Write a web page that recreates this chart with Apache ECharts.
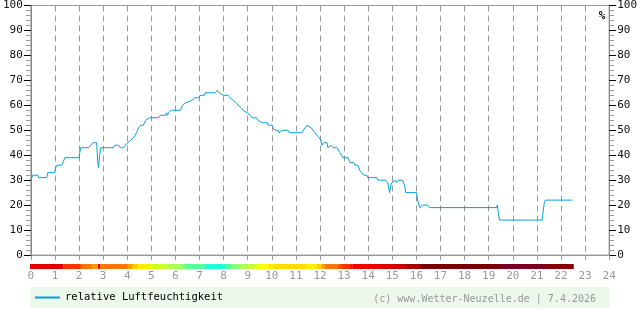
<!DOCTYPE html>
<html>
<head>
<meta charset="utf-8">
<script src="https://cdn.jsdelivr.net/npm/echarts@6/dist/echarts.min.js"></script>
<style>html,body{margin:0;padding:0;background:#fff}#c{width:640px;height:315px}</style>
</head>
<body>
<div id="c"></div>
<script>
// Time of day (hours) and relative humidity (%)
var hours = [0.00,0.04,0.08,0.29,0.33,0.66,0.70,0.99,1.03,1.08,1.28,1.37,1.41,2.00,2.03,2.07,2.40,2.48,2.57,2.73,2.77,2.81,2.85,2.90,3.43,3.47,3.64,3.72,3.85,3.93,4.01,4.14,4.26,4.39,4.47,4.55,4.67,4.76,4.84,4.92,5.30,5.38,5.59,5.63,5.67,5.71,5.83,6.21,6.29,6.41,6.70,6.79,6.95,7.03,7.20,7.24,7.65,7.74,7.82,7.90,7.99,8.19,8.27,8.40,8.52,8.61,8.73,8.81,8.98,9.10,9.18,9.35,9.43,9.60,9.81,9.85,10.01,10.05,10.14,10.26,10.30,10.43,10.67,10.72,11.25,11.38,11.46,11.54,11.63,11.71,11.79,11.87,11.96,12.04,12.08,12.16,12.29,12.33,12.45,12.54,12.70,12.83,12.95,13.16,13.24,13.41,13.45,13.57,13.65,13.74,13.82,13.94,13.98,14.36,14.40,14.73,14.81,14.85,14.89,14.94,14.98,15.06,15.14,15.18,15.27,15.43,15.51,15.56,16.01,16.05,16.14,16.26,16.47,16.55,19.32,19.36,19.40,19.45,21.22,21.27,21.31,21.35,22.47];
var humidity = [30,31,32,32,31,31,33,33,35,36,36,38,39,39,41,43,43,44,45,45,38,35,40,43,43,44,44,43,43,44,45,46,47,49,51,52,52,54,54,55,55,56,56,57,56,57,58,58,60,61,62,63,63,64,64,65,65,66,65,65,64,64,63,62,61,60,59,58,57,56,55,55,54,53,53,52,52,51,50,50,49,50,50,49,49,51,52,52,51,50,49,48,47,46,44,45,45,43,44,43,43,41,39,39,37,37,36,36,34,33,32,32,31,31,30,30,29,27,25,28,29,29,30,29,30,30,28,25,25,22,19,20,20,19,19,20,17,14,14,18,21,22,22];

// Colour band below the chart (start hour, end hour, colour)
var bandStart = [0,1.37,2.07,2.15,2.57,2.81,2.90,4.05,4.22,4.47,5.05,5.59,5.75,6.21,6.41,7.24,8.07,8.36,8.69,9.02,9.43,9.85,10.14,11.38,11.87,12.08,12.20,12.74,12.91,13.24,13.36,14.36,14.98,15.56,16.14,19.45,21.31];
var bandEnd   = [1.37,2.07,2.15,2.57,2.81,2.90,4.05,4.22,4.47,5.05,5.59,5.75,6.21,6.41,7.24,8.07,8.36,8.69,9.02,9.43,9.85,10.14,11.38,11.87,12.08,12.20,12.74,12.91,13.24,13.36,14.36,14.98,15.56,16.14,19.45,21.31,22.50];
var bandColor = ['#e00000','#ff3300','#ff5500','#ff7700','#ff9900','#ee0000','#ff7700','#ff9900','#ffcc00','#ffee00','#ccff22','#bbff44','#aaff55','#88ff66','#55ff99','#22ffdd','#55ff99','#88ff77','#aaff55','#ccff33','#ffff00','#ffee00','#ffdd00','#ffee00','#ffcc00','#ff9900','#ff7700','#ff5500','#ff3300','#ff1100','#ee0000','#dd0000','#cc0000','#aa0000','#770000','#770022','#880000'];

var seriesName = 'relative Luftfeuchtigkeit';
var copyright = '(c) www.Wetter-Neuzelle.de | 7.4.2026';
var unit = '%';

var mono = '"DejaVu Sans Mono", "Liberation Mono", monospace';
var lineColor = '#00a2dc';
var lineData = hours.map(function(h, i){ return [h, humidity[i]]; });
var bandData = bandStart.map(function(s, i){ return [s, bandEnd[i], i]; });

function yAxisCfg(pos){
  return {
    type: 'value', position: pos, min: 0, max: 100, interval: 10, gridIndex: 0,
    axisLine: {show: true, lineStyle: {color: '#888', width: 1}},
    axisTick: {show: true, length: 7, lineStyle: {color: '#000'}},
    minorTick: {show: true, splitNumber: 5, length: 5, lineStyle: {color: '#999'}},
    axisLabel: {color: '#111', fontFamily: mono, fontSize: 11, margin: 8},
    splitLine: {show: false}
  };
}

var chart = echarts.init(document.getElementById('c'), null, {renderer: 'canvas'});
chart.setOption({
  animation: false,
  grid: [
    {left: 30, right: 30, top: 5, bottom: 60, show: true, borderColor: '#999', borderWidth: 1},
    {left: 30, right: 30, top: 264, height: 5}
  ],
  xAxis: [
    {
      type: 'value', gridIndex: 0, min: 0, max: 24, interval: 1,
      axisLine: {show: true, lineStyle: {color: '#999'}},
      axisTick: {show: true, length: 5, lineStyle: {color: '#999'}},
      axisLabel: {color: '#999', fontFamily: mono, fontSize: 11, margin: 16},
      splitLine: {show: true, lineStyle: {color: '#999', type: [6, 4], width: 1}}
    },
    {type: 'value', gridIndex: 1, min: 0, max: 24, show: false}
  ],
  yAxis: [
    yAxisCfg('left'),
    yAxisCfg('right'),
    {type: 'value', gridIndex: 1, min: 0, max: 1, show: false}
  ],
  legend: {
    left: 35, top: 292, padding: 0, itemWidth: 25, itemHeight: 2, itemGap: 5,
    textStyle: {fontFamily: mono, fontSize: 10.5, color: '#000', padding: [2, 0, 0, 0]},
    itemStyle: {color: lineColor, opacity: 1},
    data: [{name: seriesName, icon: 'rect', itemStyle: {color: lineColor}}]
  },
  graphic: [
    {type: 'rect', z: -1, shape: {x: 30, y: 287, width: 580, height: 21}, style: {fill: '#ecf8ec'}},
    {type: 'text', x: 596, y: 299, style: {text: copyright, align: 'right', verticalAlign: 'middle', fill: '#999', font: '10px ' + mono}},
    {type: 'text', x: 602, y: 16, style: {text: unit, align: 'center', verticalAlign: 'middle', fill: '#000', font: 'bold 11px ' + mono}}
  ],
  series: [
    {
      name: seriesName, type: 'line', xAxisIndex: 0, yAxisIndex: 0,
      data: lineData, symbol: 'none', showSymbol: false,
      lineStyle: {color: lineColor, width: 1}, itemStyle: {color: lineColor}
    },
    {
      type: 'custom', xAxisIndex: 1, yAxisIndex: 2, data: bandData,
      renderItem: function(params, api){
        var p0 = api.coord([api.value(0), 1]);
        var p1 = api.coord([api.value(1), 0]);
        return {type: 'rect', shape: {x: p0[0], y: p0[1], width: p1[0] - p0[0], height: p1[1] - p0[1]},
                style: {fill: bandColor[api.value(2)]}};
      }
    }
  ]
});
</script>
</body>
</html>
